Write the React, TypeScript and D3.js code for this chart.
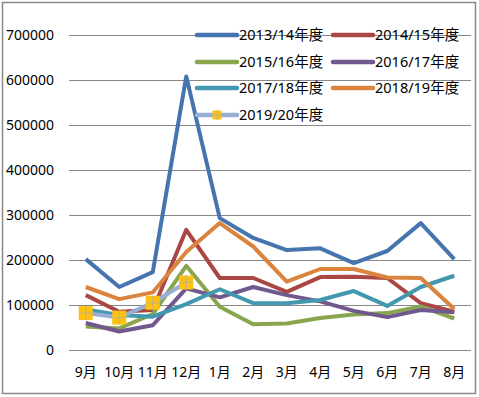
import { useEffect, useRef } from 'react';
import * as d3 from 'd3';

const months = ['9月', '10月', '11月', '12月', '1月', '2月', '3月', '4月', '5月', '6月', '7月', '8月'];
const yTicks = [0, 100000, 200000, 300000, 400000, 500000, 600000, 700000];

const s2013 = [202000, 140000, 173000, 608000, 293000, 249000, 222000, 226000, 193000, 220000, 282000, 202000];
const s2014 = [122000, 85000, 89000, 267000, 160000, 160000, 129000, 162000, 163000, 160000, 104000, 85000];
const s2015 = [52000, 48000, 80000, 187000, 96000, 57000, 59000, 71000, 79000, 82000, 97000, 70000];
const s2016 = [60000, 41000, 55000, 137000, 117000, 140000, 122000, 108000, 87000, 73000, 89000, 84000];
const s2017 = [90000, 78000, 74000, 102000, 135000, 104000, 104000, 111000, 131000, 98000, 140000, 165000];
const s2018 = [140000, 113000, 128000, 218000, 282000, 230000, 152000, 180000, 180000, 161000, 160000, 91000];
const s2019 = [82000, 72000, 105000, 150000];

const seriesNames = ['2013/14年度', '2014/15年度', '2015/16年度', '2016/17年度', '2017/18年度', '2018/19年度', '2019/20年度'];
const seriesValues = [s2013, s2014, s2015, s2016, s2017, s2018, s2019];
const colors = ['#4674AE', '#AA4643', '#89A54E', '#71588F', '#4198AF', '#DB843D', '#98AFD4'];

const W = 479;
const H = 397;
const font = '"Noto Sans", "Noto Sans CJK SC", sans-serif';

export default function App() {
    const svgRef = useRef<SVGSVGElement>(null);

    useEffect(() => {
        if (!svgRef.current) return;
        const svg = d3.select(svgRef.current);
        svg.selectAll('*').remove();

        const left = 69;
        const right = 471;
        const top = 35;
        const bottom = 350;

        const x = d3.scaleBand().domain(months).range([left, right]).padding(0);
        const y = d3.scaleLinear().domain([0, 700000]).range([bottom, top]);
        const cx = (i: number) => (x(months[i]) || 0) + x.bandwidth() / 2;

        // outer frame
        svg.append('rect')
            .attr('x', 2.5)
            .attr('y', 2.5)
            .attr('width', W - 6)
            .attr('height', H - 6)
            .attr('fill', '#fff')
            .attr('stroke', '#888')
            .attr('stroke-width', 1.5);

        // grid lines
        svg.append('g')
            .selectAll('line')
            .data(yTicks)
            .enter()
            .append('line')
            .attr('x1', left)
            .attr('x2', right)
            .attr('y1', (d) => Math.round(y(d)) + 0.5)
            .attr('y2', (d) => Math.round(y(d)) + 0.5)
            .attr('stroke', '#888')
            .attr('stroke-width', 1.2);

        // y labels
        svg.append('g')
            .selectAll('text')
            .data(yTicks)
            .enter()
            .append('text')
            .attr('x', 54)
            .attr('y', (d) => y(d) + 5)
            .attr('text-anchor', 'end')
            .attr('font-family', font)
            .attr('font-size', 14)
            .attr('fill', '#000')
            .text((d) => String(d));

        // x labels
        svg.append('g')
            .selectAll('text')
            .data(months)
            .enter()
            .append('text')
            .attr('x', (_, i) => cx(i))
            .attr('y', 377)
            .attr('text-anchor', 'middle')
            .attr('font-family', font)
            .attr('font-size', 14)
            .attr('fill', '#000')
            .text((d) => d);

        // series
        const line = d3
            .line<number>()
            .x((_, i) => cx(i))
            .y((d) => y(d));

        seriesValues.forEach((vals, si) => {
            svg.append('path')
                .datum(vals)
                .attr('fill', 'none')
                .attr('stroke', colors[si])
                .attr('stroke-width', 4)
                .attr('stroke-linejoin', 'round')
                .attr('d', line);
        });

        const drawMarker = (g: d3.Selection<any, any, any, any>, mx: number, my: number, s: number) => {
            g.append('rect')
                .attr('x', mx - s / 2)
                .attr('y', my - s / 2)
                .attr('width', s)
                .attr('height', s)
                .attr('fill', '#FFC20E');
            g.append('line')
                .attr('x1', mx).attr('x2', mx)
                .attr('y1', my - s / 2).attr('y2', my + s / 2)
                .attr('stroke', '#C9B278').attr('stroke-width', 1.2);
            g.append('line')
                .attr('x1', mx - s / 2).attr('x2', mx + s / 2)
                .attr('y1', my).attr('y2', my)
                .attr('stroke', '#C9B278').attr('stroke-width', 1.2);
        };

        const mg = svg.append('g');
        s2019.forEach((v, i) => drawMarker(mg, cx(i), y(v), 14));

        // legend
        const legendPos = [
            [197, 35], [333, 35],
            [197, 62], [333, 62],
            [197, 88], [333, 88],
            [197, 115],
        ];
        const lg = svg.append('g');
        seriesNames.forEach((name, i) => {
            const [lx, ly] = legendPos[i];
            lg.append('line')
                .attr('x1', lx)
                .attr('x2', lx + 40)
                .attr('y1', ly)
                .attr('y2', ly)
                .attr('stroke', colors[i])
                .attr('stroke-width', 4.5)
                .attr('stroke-linecap', 'round');
            if (i === 6) drawMarker(lg, lx + 20, ly, 9);
            lg.append('text')
                .attr('x', lx + 42)
                .attr('y', ly + 5)
                .attr('font-family', font)
                .attr('font-size', 14.5)
                .attr('fill', '#000')
                .text(name);
        });
    }, []);

    return (
        <svg
            ref={svgRef}
            width={W}
            height={H}
            style={{ position: 'absolute', left: 0, top: 0, display: 'block' }}
        />
    );
}
